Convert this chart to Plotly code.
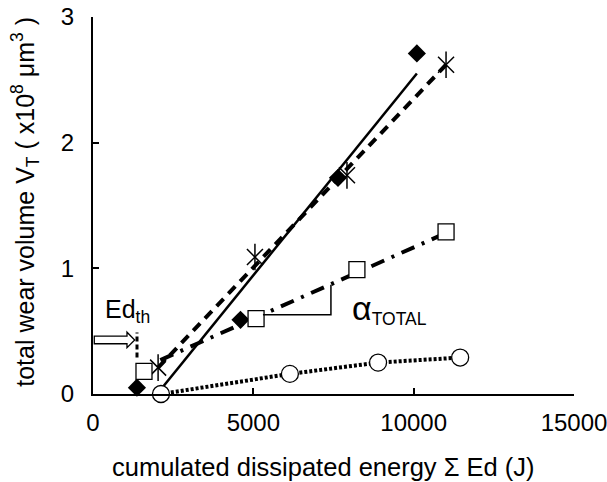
import plotly.graph_objects as go

# ---- data ----
diamond_x = [1370, 4600, 7640, 10100]
diamond_y = [0.05, 0.59, 1.72, 2.71]
star_x = [2030, 5050, 7920, 11010]
star_y = [0.21, 1.09, 1.74, 2.62]
square_x = [1590, 5085, 8230, 11010]
square_y = [0.18, 0.60, 0.99, 1.29]
circle_x = [2120, 6140, 8890, 11450]
circle_y = [0.0, 0.16, 0.25, 0.29]

# fitted trend lines (end points)
solid_fit_x = [2000, 10100]
solid_fit_y = [0.0, 2.55]
dash_fit_x = [2030, 11010]
dash_fit_y = [0.21, 2.62]
dashdot_fit_x = [2100, 11000]
dashdot_fit_y = [0.27, 1.28]

x_ticks = [0, 5000, 10000, 15000]
y_ticks = [0, 1, 2, 3]

FONT = "Liberation Sans, Arial, Helvetica, sans-serif"

fig = go.Figure()

# trend lines
fig.add_trace(go.Scatter(x=solid_fit_x, y=solid_fit_y, mode="lines",
                         line=dict(color="black", width=2.5), showlegend=False))
fig.add_trace(go.Scatter(x=dash_fit_x, y=dash_fit_y, mode="lines",
                         line=dict(color="black", width=4, dash="10px,7px"), showlegend=False))
fig.add_trace(go.Scatter(x=dashdot_fit_x, y=dashdot_fit_y, mode="lines",
                         line=dict(color="black", width=4, dash="14px,8px,3px,8px"), showlegend=False))
fig.add_trace(go.Scatter(x=circle_x, y=circle_y, mode="lines",
                         line=dict(color="black", width=4, dash="3px,2px"), showlegend=False))

# markers
fig.add_trace(go.Scatter(x=diamond_x, y=diamond_y, mode="markers", cliponaxis=False,
                         marker=dict(symbol="diamond", size=14, color="black"), showlegend=False))
fig.add_trace(go.Scatter(x=star_x, y=star_y, mode="markers",
                         marker=dict(symbol="x-thin-open", size=16, color="black",
                                     line=dict(color="black", width=1.5)), showlegend=False))
fig.add_trace(go.Scatter(x=star_x, y=star_y, mode="markers",
                         marker=dict(symbol="line-ns-open", size=19, color="black",
                                     line=dict(color="black", width=1.5)), showlegend=False))
fig.add_trace(go.Scatter(x=square_x, y=square_y, mode="markers",
                         marker=dict(symbol="square", size=16, color="white",
                                     line=dict(color="black", width=1.3)), showlegend=False))
fig.add_trace(go.Scatter(x=circle_x, y=circle_y, mode="markers", cliponaxis=False,
                         marker=dict(symbol="circle", size=17, color="white",
                                     line=dict(color="black", width=1.3)), showlegend=False))

shapes = [
    # slope bracket for alpha_TOTAL
    dict(type="path", xref="x", yref="y",
         path="M 5300 0.63 L 7420 0.63 L 7420 0.87",
         line=dict(color="black", width=1.5)),
    # vertical threshold dashes
    dict(type="line", xref="x", yref="y", x0=1372, x1=1372, y0=0.29, y1=0.49,
         line=dict(color="black", width=3, dash="5px,3px")),
    # hollow arrow
    dict(type="path", xref="x", yref="y",
         path="M 40 0.40 L 1060 0.40 L 1060 0.368 L 1300 0.43 L 1060 0.492 L 1060 0.46 L 40 0.46 Z",
         fillcolor="white", line=dict(color="black", width=1.3)),
]

annotations = [
    dict(x=310, y=0.66, xref="x", yref="y", xanchor="left", yanchor="middle",
         text="Ed<sub>th</sub>", showarrow=False,
         font=dict(family=FONT, size=25, color="black")),
    dict(x=8000, y=0.68, xref="x", yref="y", xanchor="left", yanchor="middle",
         text="<span style='font-size:34px'>α</span><sub>TOTAL</sub>", showarrow=False,
         font=dict(family=FONT, size=25, color="black")),
    # axis titles
    dict(x=0.48, y=0, xref="paper", yref="paper", yshift=-73, xanchor="center", yanchor="middle",
         text="cumulated dissipated energy Σ Ed (J)", showarrow=False,
         font=dict(family=FONT, size=25.5, color="black")),
    dict(x=0, y=0.51, xref="paper", yref="paper", xshift=-68, xanchor="center", yanchor="middle",
         textangle=-90,
         text="total wear volume V<sub>T</sub> ( x10<sup>8</sup> μm<sup>3</sup> )", showarrow=False,
         font=dict(family=FONT, size=25, color="black")),
]

fig.update_layout(
    width=607, height=482,
    margin=dict(l=93, r=33, t=17, b=88),
    paper_bgcolor="white", plot_bgcolor="white",
    font=dict(family=FONT, size=24, color="black"),
    shapes=shapes, annotations=annotations,
)
fig.update_xaxes(range=[0, 15000], tickvals=x_ticks, ticktext=[str(v) for v in x_ticks],
                 showline=True, linecolor="black", linewidth=2, mirror=False,
                 ticks="inside", ticklen=6, tickwidth=2, tickcolor="black",
                 showgrid=False, zeroline=False, automargin=False,
                 ticklabeloverflow="allow",
                 tickfont=dict(size=24), ticklabelstandoff=6)
fig.update_yaxes(range=[0, 3], tickvals=y_ticks, ticktext=[str(v) for v in y_ticks],
                 showline=True, linecolor="black", linewidth=2, mirror=False,
                 ticks="inside", ticklen=6, tickwidth=2, tickcolor="black",
                 showgrid=False, zeroline=False, automargin=False,
                 ticklabeloverflow="allow",
                 tickfont=dict(size=24), ticklabelstandoff=12)

fig.write_html("out.html", config={"displayModeBar": False},
               post_script="document.body.style.margin='0px';document.body.style.overflow='hidden';")
